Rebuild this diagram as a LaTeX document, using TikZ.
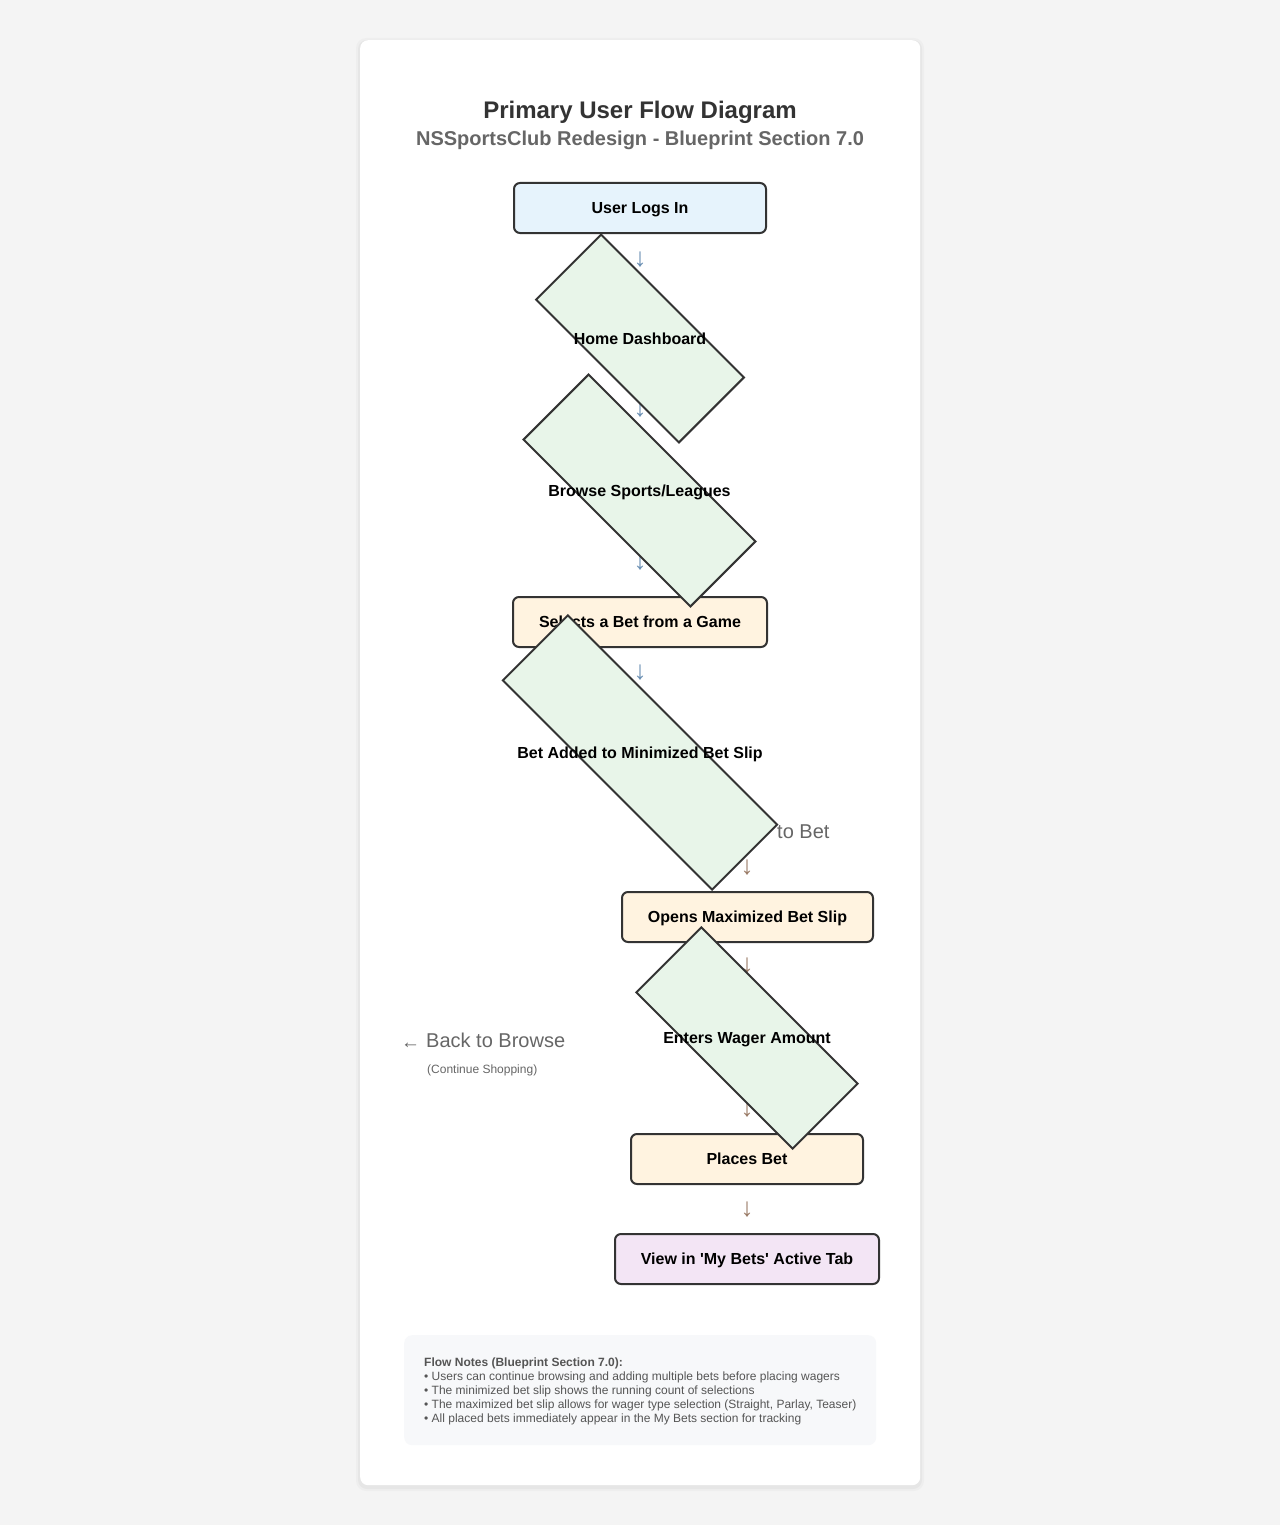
\documentclass[tikz,border=0pt]{standalone}
\usepackage{fontspec}
\setmainfont{Liberation Sans}[Ligatures=TeXOff]
\definecolor{pagebg}{HTML}{F4F4F4}
\definecolor{ink}{HTML}{333333}
\definecolor{subink}{HTML}{666666}
\definecolor{noteink}{HTML}{555555}
\definecolor{bluefill}{HTML}{E6F3FC}
\definecolor{orangefill}{HTML}{FFF3E0}
\definecolor{purplefill}{HTML}{F3E5F5}
\definecolor{greenfill}{HTML}{E8F5E9}
\definecolor{notefill}{HTML}{F7F8FA}
\definecolor{arrowblue}{HTML}{6A8FB3}
\definecolor{arrowbrown}{HTML}{9A7B66}
\begin{document}
\begin{tikzpicture}[x=1pt,y=1pt,
  flowbox/.style={draw=ink, line width=2pt, rounded corners=6pt, minimum height=50pt,
    inner sep=0pt, text height=11.5pt, text depth=0pt, text=black,
    font=\bfseries\fontsize{16}{19}\selectfont},
  slant/.style={draw=ink, line width=2pt, fill=greenfill, rotate=-45, inner sep=0pt,
    minimum height=92pt},
  slantlabel/.style={inner sep=0pt, text height=11.5pt, text depth=0pt, text=black,
    font=\bfseries\fontsize{16}{19}\selectfont},
  downarrow/.style={inner sep=0pt, font=\fontsize{26}{30}\selectfont},
  notetext/.style={anchor=base west, inner sep=0pt, text=noteink, font=\fontsize{12}{14}\selectfont}
]
\useasboundingbox (0,0) rectangle (1280,-1525);
\fill[pagebg] (0,0) rectangle (1280,-1525);
% card shadow and card
\fill[black, opacity=0.025, rounded corners=10pt] (356,-38) rectangle (924,-1491);
\fill[black, opacity=0.03, rounded corners=9pt] (358,-40) rectangle (922,-1489);
\node (card) [fill=white, rounded corners=8pt, minimum width=560pt, minimum height=1445pt,
  anchor=north west, inner sep=0pt] at (360,-40) {};

% titles
\node (title) [anchor=base, inner sep=0pt, text=ink, font=\bfseries\fontsize{24}{28}\selectfont]
  at (640,-118.4) {Primary User Flow Diagram};
\node (subtitle) [anchor=base, inner sep=0pt, text=subink, font=\bfseries\fontsize{20}{24}\selectfont]
  at (640,-146) {NSSportsClub Redesign - Blueprint Section 7.0};

% rectangular steps
\node (login) [flowbox, fill=bluefill, minimum width=252pt] at (640,-208) {User Logs In};
\node (select) [flowbox, fill=orangefill, minimum width=254pt] at (640,-622) {Selects a Bet from a Game};
\node (opens) [flowbox, fill=orangefill, minimum width=251pt] at (747.5,-917) {Opens Maximized Bet Slip};
\node (places) [flowbox, fill=orangefill, minimum width=232pt] at (747,-1159) {Places Bet};
\node (mybets) [flowbox, fill=purplefill, minimum width=264pt] at (747,-1259) {View in 'My Bets' Active Tab};

% arrow glyphs
\node (a1) [downarrow, text=arrowblue] at (640,-260) {↓};
\node (a2) [downarrow, text=arrowblue] at (640,-410) {↓};
\node (a3) [downarrow, text=arrowblue] at (640,-563) {↓};
\node (a4) [downarrow, text=arrowblue] at (640,-673) {↓};
\node (a5) [downarrow, text=arrowbrown] at (747,-868) {↓};
\node (a6) [downarrow, text=arrowbrown] at (747,-966) {↓};
\node (a7) [downarrow, text=arrowbrown] at (747,-1110) {↓};
\node (a8) [downarrow, text=arrowbrown] at (747,-1210) {↓};

% partially hidden label
\node (tobet) [anchor=base west, inner sep=0pt, text=subink, font=\fontsize{20}{24}\selectfont]
  at (777,-838) {to Bet};

% slanted (rotated) steps
\node (home) [slant, minimum width=202pt] at (640,-338.5) {};
\node (homet) [slantlabel] at (home.center) {Home Dashboard};
\node (browse) [slant, minimum width=236pt] at (639.5,-490.5) {};
\node (browset) [slantlabel] at (browse.center) {Browse Sports/Leagues};
\node (added) [slant, minimum width=296pt] at (640,-752.5) {};
\node (addedt) [slantlabel] at (added.center) {Bet Added to Minimized Bet Slip};
\node (wager) [slant, minimum width=221pt] at (747,-1038) {};
\node (wagert) [slantlabel] at (wager.center) {Enters Wager Amount};

% back to browse
\node (backarrow) [anchor=base west, inner sep=0pt, text=subink, font=\fontsize{19}{22}\selectfont]
  at (401,-1048) {←};
\node (back) [anchor=base west, inner sep=0pt, text=subink, font=\fontsize{20}{24}\selectfont]
  at (426,-1047) {Back to Browse};
\node (shop) [anchor=base west, inner sep=0pt, text=subink, font=\fontsize{12}{14}\selectfont]
  at (427,-1073) {(Continue Shopping)};

% notes
\node (notes) [fill=notefill, rounded corners=8pt, minimum width=472pt, minimum height=110pt,
  anchor=north west, inner sep=0pt] at (404,-1335) {};
\node (n0) [notetext, font=\bfseries\fontsize{12}{14}\selectfont] at (424,-1366) {Flow Notes (Blueprint Section 7.0):};
\node (n1) [notetext] at (424,-1380) {• Users can continue browsing and adding multiple bets before placing wagers};
\node (n2) [notetext] at (424,-1394) {• The minimized bet slip shows the running count of selections};
\node (n3) [notetext] at (424,-1408) {• The maximized bet slip allows for wager type selection (Straight, Parlay, Teaser)};
\node (n4) [notetext] at (424,-1422) {• All placed bets immediately appear in the My Bets section for tracking};
\end{tikzpicture}
\end{document}
